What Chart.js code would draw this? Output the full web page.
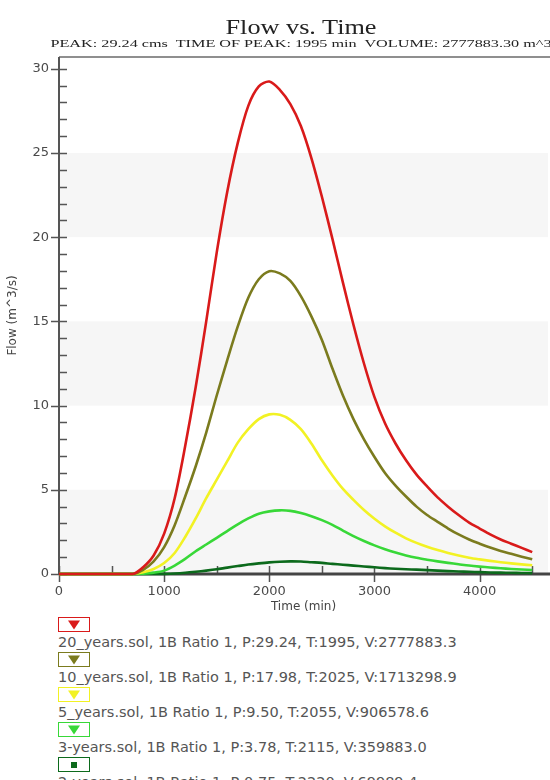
<!DOCTYPE html>
<html>
<head>
<meta charset="utf-8">
<script src="https://cdn.jsdelivr.net/npm/chart.js@4.4.1/dist/chart.umd.min.js"></script>
<style>
  html, body { margin: 0; padding: 0; background: #fff; overflow: hidden; width: 550px; height: 780px; }
  #wrap { position: relative; width: 550px; height: 780px; overflow: hidden; }
  .title { position: absolute; left: 301px; white-space: nowrap; font-family: "Liberation Serif", serif; color: #222; transform-origin: center; }
  #t1 { top: 15px; font-size: 21px; transform: translateX(-50%) scaleX(1.25); }
  #t2 { top: 38px; font-size: 10px; transform: translateX(-50%) scaleX(1.62); }
  #chart { position: absolute; left: 0; top: 0; }
  #legend { position: absolute; left: 58px; top: 617px; font-family: "DejaVu Sans", sans-serif; font-size: 14.5px; color: #555; }
  .item { height: 35px; }
  .box { width: 30px; height: 13px; border: 1px solid; position: relative; background: #fff; }
  .box span { position: absolute; left: 50%; top: 50%; transform: translate(-50%, -50%); }
  .lbl { margin-top: 1px; white-space: nowrap; line-height: 18px; }
</style>
</head>
<body>
<div id="wrap">
  <canvas id="chart" width="550" height="614"></canvas>
  <div class="title" id="t1">Flow vs. Time</div>
  <div class="title" id="t2">PEAK: 29.24 cms&nbsp; TIME OF PEAK: 1995 min&nbsp; VOLUME: 2777883.30 m^3</div>
  <div id="legend"></div>
</div>
<script>
// time axis (min), shared by all runs
const times = [0, 700, 800, 900, 1000, 1100, 1200, 1300, 1400, 1500, 1600, 1700, 1800, 1900, 2000,
  2100, 2200, 2300, 2400, 2500, 2600, 2700, 2800, 2900, 3000, 3100, 3200, 3300, 3400, 3500,
  3600, 3700, 3800, 3900, 4000, 4100, 4200, 4300, 4400, 4500];
const timeTicks = [0, 1000, 2000, 3000, 4000];
const flowTicks = [0, 5, 10, 15, 20, 25, 30];

const flow20 = [0, 0, 0.4, 1.1, 2.4, 4.5, 7.6, 11.1, 15.0, 19.1, 22.7, 25.6, 27.8, 28.95, 29.24,
  28.75, 27.9, 26.6, 24.7, 22.4, 19.9, 17.3, 14.8, 12.5, 10.5, 8.95, 7.75, 6.75, 5.9, 5.2,
  4.55, 4.0, 3.5, 3.05, 2.7, 2.35, 2.05, 1.8, 1.55, 1.3];
const flow10 = [0, 0, 0.25, 0.75, 1.6, 2.9, 4.6, 6.4, 8.4, 10.6, 12.7, 14.7, 16.4, 17.5, 17.98,
  17.85, 17.4, 16.5, 15.3, 13.9, 12.2, 10.6, 9.2, 8.0, 6.95, 6.0, 5.25, 4.6, 4.0, 3.5,
  3.1, 2.7, 2.35, 2.05, 1.8, 1.57, 1.37, 1.2, 1.03, 0.87];
const flow5 = [0, 0, 0.1, 0.3, 0.65, 1.25, 2.2, 3.3, 4.5, 5.6, 6.7, 7.8, 8.6, 9.2, 9.48,
  9.45, 9.15, 8.6, 7.75, 6.75, 5.85, 5.05, 4.4, 3.8, 3.28, 2.83, 2.45, 2.12, 1.85, 1.62,
  1.42, 1.25, 1.1, 0.97, 0.87, 0.78, 0.7, 0.63, 0.57, 0.52];
const flow3 = [0, 0, 0.02, 0.08, 0.2, 0.5, 0.9, 1.35, 1.75, 2.15, 2.55, 2.95, 3.3, 3.58, 3.72,
  3.78, 3.75, 3.62, 3.43, 3.2, 2.92, 2.58, 2.25, 1.96, 1.7, 1.47, 1.27, 1.1, 0.96, 0.85,
  0.75, 0.66, 0.58, 0.5, 0.44, 0.39, 0.34, 0.3, 0.27, 0.24];
const flow2 = [0, 0, 0, 0, 0.01, 0.03, 0.07, 0.13, 0.2, 0.28, 0.38, 0.47, 0.56, 0.63, 0.69,
  0.73, 0.75, 0.74, 0.7, 0.66, 0.6, 0.55, 0.5, 0.45, 0.4, 0.35, 0.31, 0.28, 0.26, 0.23,
  0.2, 0.17, 0.15, 0.13, 0.11, 0.09, 0.08, 0.07, 0.06, 0.05];

const runLabels = [
  '20_years.sol, 1B Ratio 1, P:29.24, T:1995, V:2777883.3',
  '10_years.sol, 1B Ratio 1, P:17.98, T:2025, V:1713298.9',
  '5_years.sol, 1B Ratio 1, P:9.50, T:2055, V:906578.6',
  '3-years.sol, 1B Ratio 1, P:3.78, T:2115, V:359883.0',
  '2-years.sol, 1B Ratio 1, P:0.75, T:2220, V:69989.4'
];
const runColors = ['#d91a1a', '#7b7b1e', '#f2f224', '#38d838', '#0c6a1c'];
const runMarkers = ['tri', 'tri', 'tri', 'tri', 'square'];

const series = [flow20, flow10, flow5, flow3, flow2];

// light bands, axis lines and tick marks
const frame = {
  id: 'frame',
  beforeDatasetsDraw(chart) {
    const {ctx, chartArea: a, scales: {x, y}} = chart;
    ctx.save();
    ctx.fillStyle = '#f6f6f6';
    for (let v = 0; v < 30; v += 10) {
      const top = y.getPixelForValue(v + 5), bot = y.getPixelForValue(v);
      ctx.fillRect(a.left, top, a.right - a.left, bot - top);
    }
    // top border
    ctx.strokeStyle = '#6a6a6a';
    ctx.lineWidth = 1.5;
    ctx.beginPath();
    ctx.moveTo(a.left, a.top);
    ctx.lineTo(552, a.top);
    ctx.stroke();

    ctx.strokeStyle = '#555';
    ctx.lineWidth = 1.5;
    ctx.beginPath();
    for (let v = 0; v <= 30; v++) {
      const py = Math.round(y.getPixelForValue(v)) + 0.5;
      ctx.moveTo(v % 5 === 0 ? a.left - 8 : a.left, py);
      ctx.lineTo(a.left + 8, py);
    }
    for (let t = 0; t <= 4500; t += 500) {
      const px = Math.round(x.getPixelForValue(t)) + 0.5;
      ctx.moveTo(px, a.bottom - 8);
      ctx.lineTo(px, t % 1000 === 0 ? a.bottom + 8 : a.bottom);
    }
    ctx.stroke();

    ctx.lineWidth = 2;
    ctx.beginPath();
    ctx.moveTo(a.left, a.top);
    ctx.lineTo(a.left, a.bottom);
    ctx.stroke();
    ctx.strokeStyle = '#444';
    ctx.lineWidth = 3;
    ctx.beginPath();
    ctx.moveTo(a.left, a.bottom);
    ctx.lineTo(552, a.bottom);
    ctx.stroke();
    ctx.restore();
  }
};

const tickFont = { family: 'DejaVu Sans', size: 13 };

new Chart(document.getElementById('chart'), {
  type: 'line',
  data: {
    datasets: series.map((s, i) => ({
      label: runLabels[i],
      data: s.map((v, k) => ({ x: times[k], y: v })),
      borderColor: runColors[i],
      borderWidth: 2.6,
      pointRadius: 0,
      tension: 0.3,
      clip: false
    }))
  },
  options: {
    responsive: false,
    animation: false,
    layout: { padding: { top: 57, right: 2, left: 0, bottom: 0 } },
    plugins: { legend: { display: false }, tooltip: { enabled: false } },
    scales: {
      x: {
        type: 'linear',
        min: 0,
        max: 4650,
        grid: { display: false, drawTicks: false },
        border: { display: false },
        ticks: { padding: 10, color: '#4a4a4a', font: tickFont, maxRotation: 0, autoSkip: false,
          callback: v => String(v) },
        afterBuildTicks(scale) { scale.ticks = timeTicks.map(v => ({ value: v })); },
        title: { display: true, text: 'Time (min)', color: '#444', font: { family: 'DejaVu Sans', size: 12 }, padding: 0 },
        afterFit(scale) { scale.height = 40; }
      },
      y: {
        min: 0,
        max: 30.7,
        grid: { display: false, drawTicks: false },
        border: { display: false },
        ticks: { padding: 10, color: '#4a4a4a', font: tickFont, autoSkip: false, callback: v => String(v) },
        afterBuildTicks(scale) { scale.ticks = flowTicks.map(v => ({ value: v })); },
        title: { display: true, text: 'Flow (m^3/s)', color: '#444', font: { family: 'DejaVu Sans', size: 12 }, padding: 6 },
        afterFit(scale) { scale.width = 59; }
      }
    }
  },
  plugins: [frame]
});

// legend: marker box above each label
const legend = document.getElementById('legend');
runLabels.forEach((txt, i) => {
  const c = runColors[i];
  const mark = runMarkers[i] === 'tri'
    ? `<span style="width:0;height:0;border-left:6px solid transparent;border-right:6px solid transparent;border-top:9px solid ${c}"></span>`
    : `<span style="width:6px;height:6px;background:${c}"></span>`;
  legend.insertAdjacentHTML('beforeend',
    `<div class="item"><div class="box" style="border-color:${c}">${mark}</div><div class="lbl">${txt}</div></div>`);
});
</script>
</body>
</html>
